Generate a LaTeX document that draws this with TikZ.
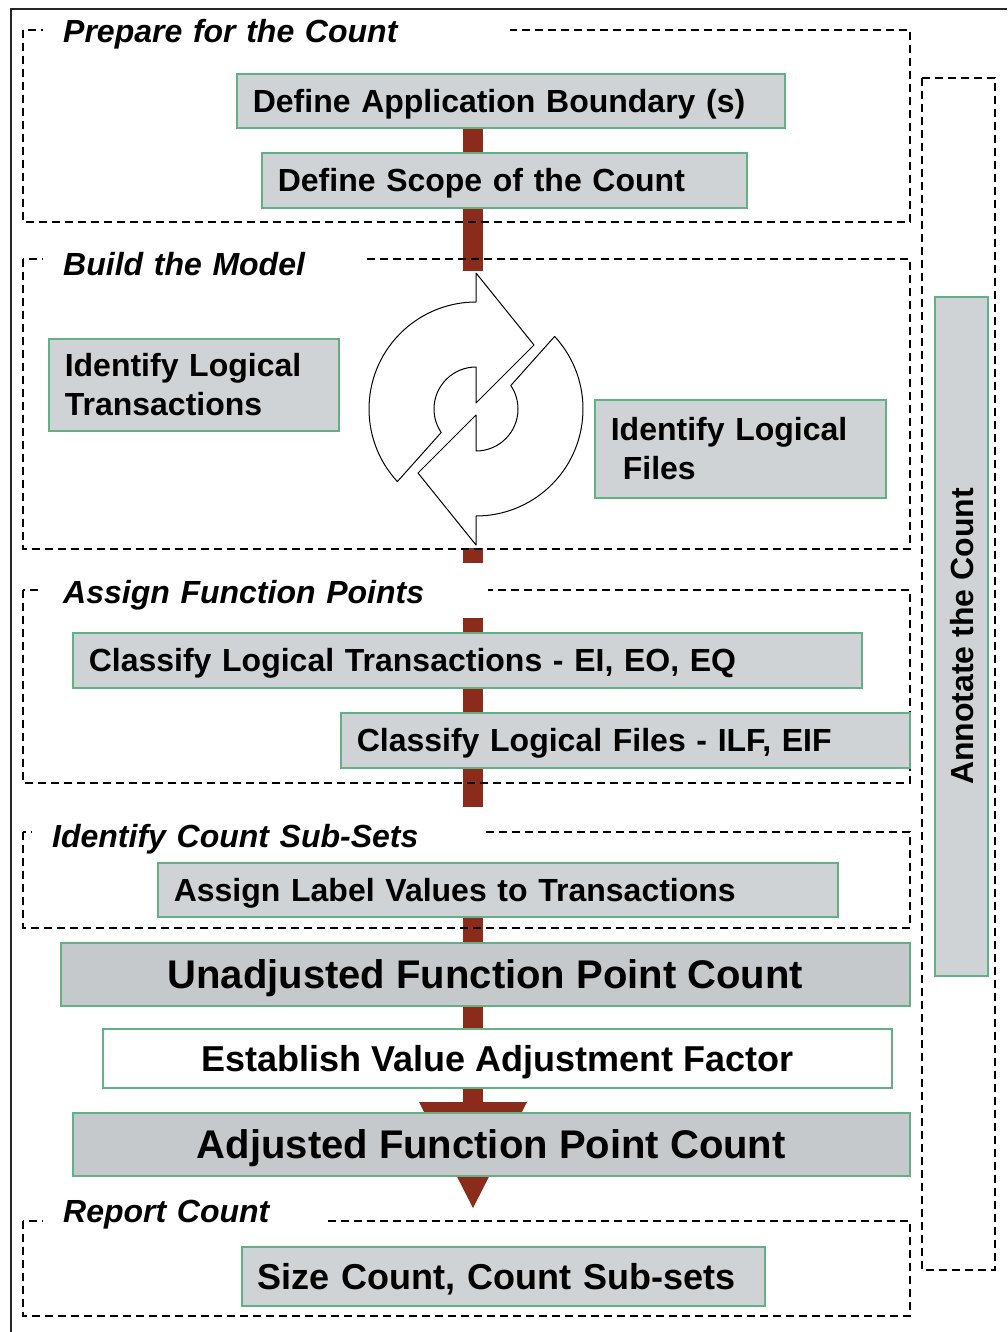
\documentclass[tikz,border=0pt]{standalone}
\usepackage{fontspec}
\setmainfont{Liberation Sans}
\usetikzlibrary{arrows.meta,backgrounds}
\definecolor{fpred}{HTML}{8B2B1B}
\definecolor{fpgreen}{HTML}{62B083}
\definecolor{fpgray}{HTML}{D0D3D6}
\definecolor{fpdark}{HTML}{C5C9CC}

\begin{document}
\begin{tikzpicture}[x=1pt, y=-1pt,
  box/.style={draw=fpgreen, line width=1.6pt, fill=fpgray, anchor=north west,
    inner xsep=16pt, inner ysep=0pt, align=left, text depth=0pt,
    font=\fontsize{32}{40}\selectfont\bfseries},
  twoline/.style={box, text depth=, font=\fontsize{32}{39}\selectfont\bfseries},
  total/.style={box, fill=fpdark, align=center,
    font=\fontsize{40}{48}\selectfont\bfseries},
  grp/.style={dash pattern=on 8pt off 5pt, line width=2pt},
  ttl/.style={fill=white, anchor=base west, inner xsep=20pt, inner ysep=0pt,
    minimum height=55pt, text height=25pt, text depth=0pt, align=left,
    font=\fontsize{32}{40}\selectfont\bfseries\itshape},
  cyc/.style={draw, fill=white, line width=1pt, line join=round},
  flow/.style={draw=fpred, line width=20pt,
    -{Triangle[length=106pt, width=108pt, line width=0pt]}},
]
\useasboundingbox (0,0) rectangle (1007,1332);

% groups
\draw[grp] (23,30) rectangle (910,222);
\draw[grp] (23,259) rectangle (910,549);
\draw[grp] (23,590) rectangle (910,783);
\draw[grp] (23,832) rectangle (910,928);
\draw[grp] (23,1221) rectangle (910,1316);
\draw[grp] (922,78) rectangle (995,1270);

\node[ttl, text width=427pt] (prep) at (43,43) {Prepare for the Count};
\node[ttl, text width=282pt] (build) at (43,275) {Build the Model};
\node[ttl, text width=405pt] (assign) at (43,603) {Assign Function Points};
\node[ttl, text width=414pt] (subsets) at (32,847) {Identify Count Sub-Sets};
\node[ttl, text width=244pt] (report) at (43,1222) {Report Count};

% cycle
\fill[white] (362,271) rectangle (592,548);
\begin{scope}[shift={(476,409)}, yscale=-1]
\draw[cyc] (0,136) -- (58,64) -- (0,6) -- (0,42)
  arc[start angle=90, end angle=214, radius=42] -- (222.7:107)
  arc[start angle=222.7, end angle=90, radius=107] -- cycle;
\draw[cyc, rotate=180] (0,136) -- (58,64) -- (0,6) -- (0,42)
  arc[start angle=90, end angle=214, radius=42] -- (222.7:107)
  arc[start angle=222.7, end angle=90, radius=107] -- cycle;
\end{scope}

\node[box, text width=516pt, minimum height=54pt] (appbnd) at (236,73)
  {Define Application Boundary (s)};
\node[box, text width=453pt, minimum height=55pt] (scope) at (261,152)
  {Define Scope of the Count};
\node[twoline, text width=258pt, minimum height=92pt] (ilt) at (48,338)
  {Identify Logical\\Transactions};
\node[twoline, text width=259pt, minimum height=98pt] (ilf) at (594,399)
  {Identify Logical\\\hspace*{12pt}Files};
\node[box, text width=757pt, minimum height=55pt] (clt) at (72,632)
  {Classify Logical Transactions - EI, EO, EQ};
\node[box, text width=537pt, minimum height=55pt] (clf) at (340,712)
  {Classify Logical Files - ILF, EIF};
\node[box, text width=648pt, minimum height=54pt] (alv) at (157,862)
  {Assign Label Values to Transactions};
\node[total, minimum width=849pt, minimum height=63pt] (ufpc) at (60,942)
  {Unadjusted Function Point Count};
\node[box, fill=white, align=center, minimum width=789pt, minimum height=59pt,
  font=\fontsize{36}{44}\selectfont\bfseries] (evaf) at (102,1028)
  {Establish Value Adjustment Factor};
\node[total, minimum width=837pt, minimum height=63pt] (afpc) at (72,1112)
  {Adjusted Function Point Count};
\node[box, text width=491pt, minimum height=59pt,
  font=\fontsize{36}{44}\selectfont\bfseries] (size) at (241,1246)
  {Size Count, Count Sub-sets};
\node[box, anchor=center, rotate=90, align=center, minimum width=679pt,
  minimum height=53pt] (annot) at (961.5,636.5) {Annotate the Count};

\coordinate (tip) at (473,1208);
\begin{pgfonlayer}{background}
\draw[flow] (tip |- appbnd.south) -- (tip);
\end{pgfonlayer}

\draw[line width=2.5pt, black!85] (1007,9) -- (11,9) -- (11,1332);
\end{tikzpicture}
\end{document}
